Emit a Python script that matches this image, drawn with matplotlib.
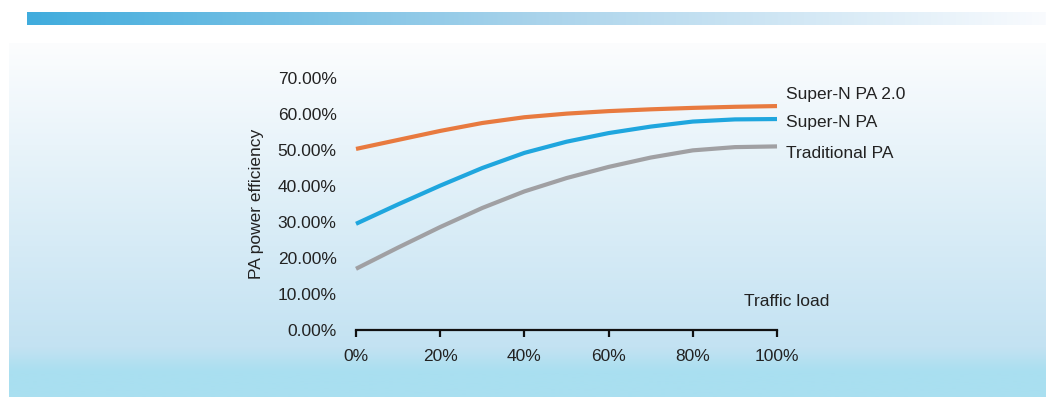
import numpy as np
import matplotlib
matplotlib.use("Agg")
import matplotlib.pyplot as plt
from matplotlib.colors import to_rgb

# ---- data ----
load_pct = [0, 10, 20, 30, 40, 50, 60, 70, 80, 90, 100]
super_n_2 = [50.3, 52.8, 55.3, 57.5, 59.1, 60.1, 60.8, 61.3, 61.7, 62.0, 62.2]
super_n = [29.5, 34.9, 40.1, 45.0, 49.2, 52.3, 54.7, 56.5, 57.9, 58.5, 58.6]
traditional = [17.0, 22.9, 28.6, 33.9, 38.5, 42.2, 45.3, 47.9, 49.9, 50.8, 51.0]
series_names = ["Super-N PA 2.0", "Super-N PA", "Traditional PA"]
series_colors = ["#e87a3f", "#1fa6de", "#a0a0a3"]
x_ticks = [0, 20, 40, 60, 80, 100]
y_ticks = [0, 10, 20, 30, 40, 50, 60, 70]

W, H = 1046, 397
FS = 12.5
plt.rcParams['font.family'] = ['Liberation Sans', 'DejaVu Sans']
fig = plt.figure(figsize=(W / 100, H / 100), dpi=100)
fig.patch.set_facecolor("white")

# ---- background decorations ----
bg = fig.add_axes([0, 0, 1, 1], zorder=-5)
bg.axis("off")

# vertical gradient panel
ys = np.linspace(0, 1, 400)
stops = [0.0, 0.86, 0.93, 1.0]
cols = [to_rgb("#fcfdfe"), to_rgb("#c3e2f2"), to_rgb("#a9dff0"), to_rgb("#a9dff0")]
grad = np.zeros((400, 1, 3))
for c in range(3):
    grad[:, 0, c] = np.interp(ys, stops, [col[c] for col in cols])
bg.imshow(grad, extent=[9, W, H, 43], aspect="auto", interpolation="bilinear")

# top horizontal bar
xs = np.linspace(0, 1, 600)
bstops = [0.0, 0.5, 1.0]
bcols = [to_rgb("#40acdd"), to_rgb("#a9d3eb"), to_rgb("#f9fbfe")]
bar = np.zeros((1, 600, 3))
for c in range(3):
    bar[0, :, c] = np.interp(xs, bstops, [col[c] for col in bcols])
bg.imshow(bar, extent=[27, W, 25, 12], aspect="auto", interpolation="bilinear")
bg.set_xlim(0, W)
bg.set_ylim(H, 0)

# ---- main chart ----
left = 356 / W
right = 777 / W
bottom = (H - 330) / H
top = (H - 78) / H
ax = fig.add_axes([left, bottom, right - left, top - bottom])
ax.patch.set_alpha(0)

label_y_px = [94, 122, 153]
for vals, name, col, ly in zip([super_n_2, super_n, traditional], series_names,
                               series_colors, label_y_px):
    ax.plot(load_pct, vals, color=col, lw=3.0, solid_capstyle="butt",
            solid_joinstyle="round", clip_on=False)
    fig.text(786 / W, (H - ly) / H, name, va="center", ha="left", fontsize=FS,
             color="#222222")

ax.set_xlim(0, 100)
ax.set_ylim(0, 70)
ax.set_xticks(x_ticks)
ax.set_xticklabels([f"{t}%" for t in x_ticks])
ax.set_yticks(y_ticks)
ax.set_yticklabels([f"{t:.2f}%" for t in y_ticks])

for s in ["top", "right", "left"]:
    ax.spines[s].set_visible(False)
ax.spines["bottom"].set_linewidth(1.6)
ax.spines["bottom"].set_color("#111111")
ax.tick_params(axis="x", direction="out", length=5, width=1.6, color="#111111",
               labelsize=FS, labelcolor="#222222", pad=9)
ax.tick_params(axis="y", length=0, labelsize=FS, labelcolor="#222222", pad=14)

ax.set_ylabel("PA power efficiency", fontsize=FS, color="#222222", labelpad=10)
fig.text(787 / W, (H - 301) / H, "Traffic load", ha="center", va="center",
         fontsize=FS, color="#222222")

fig.savefig("out.png", dpi=100)
